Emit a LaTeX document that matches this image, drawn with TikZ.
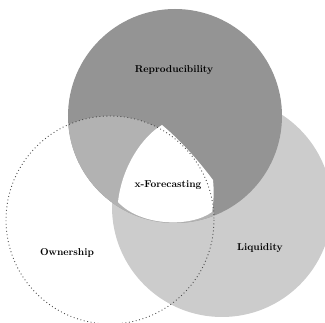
\documentclass[tikz,border=0pt]{standalone}
\begin{document}
\begin{tikzpicture}[x=1pt,y=-1pt,
  lbl/.style={font=\fontsize{10}{12}\selectfont\bfseries, text=black, inner sep=0pt},
  topfill/.style={fill=black!42},
  midfill/.style={fill=black!30},
  lightfill/.style={fill=black!20},
  ringline/.style={draw=black!70, line width=0.9pt, dash pattern=on 0.9pt off 2.6pt}]
\useasboundingbox (0,0) rectangle (325,323);
% right circle
\path[lightfill] (222,207) circle[radius=110];
% top circle
\path[topfill] (175,116) circle[radius=107];
% top and left overlap
\begin{scope}
  \clip (110,220) circle[radius=104];
  \path[midfill] (175,116) circle[radius=107];
\end{scope}
% white centre region
\path[fill=white] (162,125)
   .. controls (143,136) and (122,166) .. (118,202)
   .. controls (140,226) and (190,228) .. (212,212)
   .. controls (214,200) and (214,190) .. (213,180)
   .. controls (198,160) and (180,140) .. (162,125) -- cycle;
% left circle outline
\draw[ringline] (110,220) circle[radius=104];
% labels
\node[lbl] (rep) at (174,70) {Reproducibility};
\node[lbl] (ctr) at (168,185) {x-Forecasting};
\node[lbl] (own) at (67,253) {Ownership};
\node[lbl] (liq) at (260,248) {Liquidity};
\end{tikzpicture}
\end{document}
